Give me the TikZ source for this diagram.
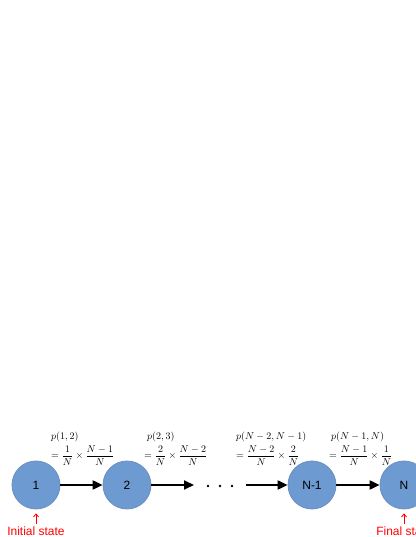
\documentclass[tikz,border=0pt]{standalone}
\usepackage{fontspec}
\setmainfont{Liberation Sans}
\usepackage{amsmath}
\usetikzlibrary{arrows.meta}
\definecolor{stfill}{HTML}{6D9BD1}
\definecolor{stdraw}{HTML}{6C8EBF}
\definecolor{redtxt}{HTML}{FF0000}
\tikzset{
  state/.style={circle, fill=stfill, draw=stdraw, line width=0.8pt, minimum size=48pt, inner sep=0pt, font=\fontsize{12}{14}\selectfont},
  trans/.style={-{Triangle[length=10pt,width=9pt]}, line width=2pt, black},
  plabel/.style={anchor=north west, align=left, inner sep=0pt, font=\fontsize{10}{12}\selectfont},
  marker/.style={-{Straight Barb[length=3pt,width=5pt]}, redtxt, line width=0.8pt},
  mtext/.style={text=redtxt, font=\fontsize{12}{14}\selectfont, inner sep=0pt},
  dot/.style={circle, fill=black, minimum size=2.6pt, inner sep=0pt}
}
\begin{document}
\begin{tikzpicture}[x=1pt,y=1pt]
\useasboundingbox (0,0) rectangle (415,537);
\node[state] (s1) at (36,52) {1};
\node[state] (s2) at (127,52) {2};
\node[state] (sN1) at (312,52) {N-1};
\node[state] (sN) at (404,52) {N};
\node[dot] (d1) at (208,51) {};
\node[dot] (d2) at (220,51) {};
\node[dot] (d3) at (232,51) {};
\coordinate (a2end) at (194,52);
\coordinate (a3start) at (246,52);
\draw[trans] (s1) -- (s2);
\draw[trans] (s2.east) -- (a2end);
\draw[trans] (a3start) -- (sN1.west);
\draw[trans] (sN1) -- (sN);
\node[plabel] (l1) at (51,105) {$p(1,2)$\\[2pt]$=\dfrac{1}{N}\times\dfrac{N-1}{N}$};
\node[plabel] (l2) at (144,105) {\hspace{3pt}$p(2,3)$\\[2pt]$=\dfrac{2}{N}\times\dfrac{N-2}{N}$};
\node[plabel] (l3) at (236,105) {$p(N-2,N-1)$\\[2pt]$=\dfrac{N-2}{N}\times\dfrac{2}{N}$};
\node[plabel] (l4) at (329,105) {\hspace{2pt}$p(N-1,N)$\\[2pt]$=\dfrac{N-1}{N}\times\dfrac{1}{N}$};
\node[mtext] (t1) at (36,6) {Initial state};
\node[mtext] (t2) at (404,6) {Final state};
\draw[marker] (t1.north) ++(0,2) coordinate (m1) -- ++(0,11);
\draw[marker] (t2.north) ++(0,2) coordinate (m2) -- ++(0,11);
\end{tikzpicture}
\end{document}
